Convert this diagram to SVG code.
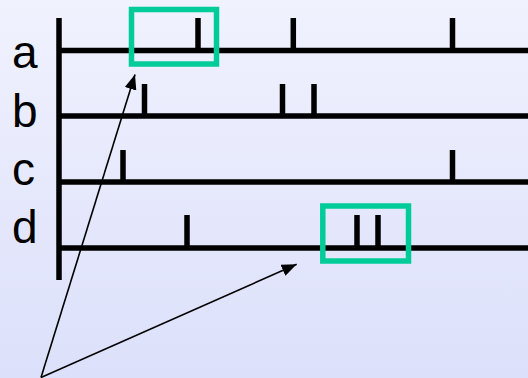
<svg xmlns="http://www.w3.org/2000/svg" width="528" height="378" viewBox="0 0 528 378">
<defs>
<linearGradient id="bg" x1="0" y1="0" x2="0" y2="1">
<stop offset="0" stop-color="#f0f2fe"/>
<stop offset="1" stop-color="#dce0fa"/>
</linearGradient>
<marker id="ah" markerUnits="userSpaceOnUse" markerWidth="16" markerHeight="12" refX="15" refY="6" orient="auto">
<path d="M0,0 L15,6 L0,12 Z" fill="#000"/>
</marker>
<style>
.axis{stroke:#000;stroke-width:5.5;fill:none}
.tick{stroke:#000;stroke-width:5.5;fill:none}
.lbl{font-family:"Liberation Sans",Arial,sans-serif;font-size:46px;fill:#000}
.hl{fill:none;stroke:#00cc99;stroke-width:5.5}
.arr{stroke:#000;stroke-width:1.6;fill:none;marker-end:url(#ah)}
</style>
</defs>
<rect width="528" height="378" fill="url(#bg)"/>
<g id="axis">
<line class="axis" x1="59" y1="18" x2="59" y2="280"/>
</g>
<g id="row-a">
<text class="lbl" x="12" y="68">a</text>
<line class="axis" x1="59" y1="50.5" x2="528" y2="50.5"/>
<line class="tick" x1="198" y1="18" x2="198" y2="50"/>
<line class="tick" x1="293.3" y1="18" x2="293.3" y2="50"/>
<line class="tick" x1="452.5" y1="18" x2="452.5" y2="50"/>
</g>
<g id="row-b">
<text class="lbl" x="12" y="126.5">b</text>
<line class="axis" x1="59" y1="116" x2="528" y2="116"/>
<line class="tick" x1="144.5" y1="84" x2="144.5" y2="116"/>
<line class="tick" x1="282.5" y1="84" x2="282.5" y2="116"/>
<line class="tick" x1="314" y1="84" x2="314" y2="116"/>
</g>
<g id="row-c">
<text class="lbl" x="12" y="184.5">c</text>
<line class="axis" x1="59" y1="182" x2="528" y2="182"/>
<line class="tick" x1="123" y1="150" x2="123" y2="182"/>
<line class="tick" x1="452.5" y1="150" x2="452.5" y2="182"/>
</g>
<g id="row-d">
<text class="lbl" x="12" y="242.5">d</text>
<line class="axis" x1="59" y1="248" x2="528" y2="248"/>
<line class="tick" x1="187" y1="215" x2="187" y2="248"/>
<line class="tick" x1="357" y1="215" x2="357" y2="248"/>
<line class="tick" x1="378" y1="215" x2="378" y2="248"/>
</g>
<g id="box1">
<rect class="hl" x="131.5" y="9.5" width="85" height="54.5"/>
</g>
<g id="box2">
<rect class="hl" x="322.8" y="206" width="85.7" height="55"/>
</g>
<g id="connectors">
<line class="arr" x1="41" y1="377.5" x2="135" y2="74.5"/>
<line class="arr" x1="41" y1="377.5" x2="296.7" y2="264.3"/>
</g>
</svg>
